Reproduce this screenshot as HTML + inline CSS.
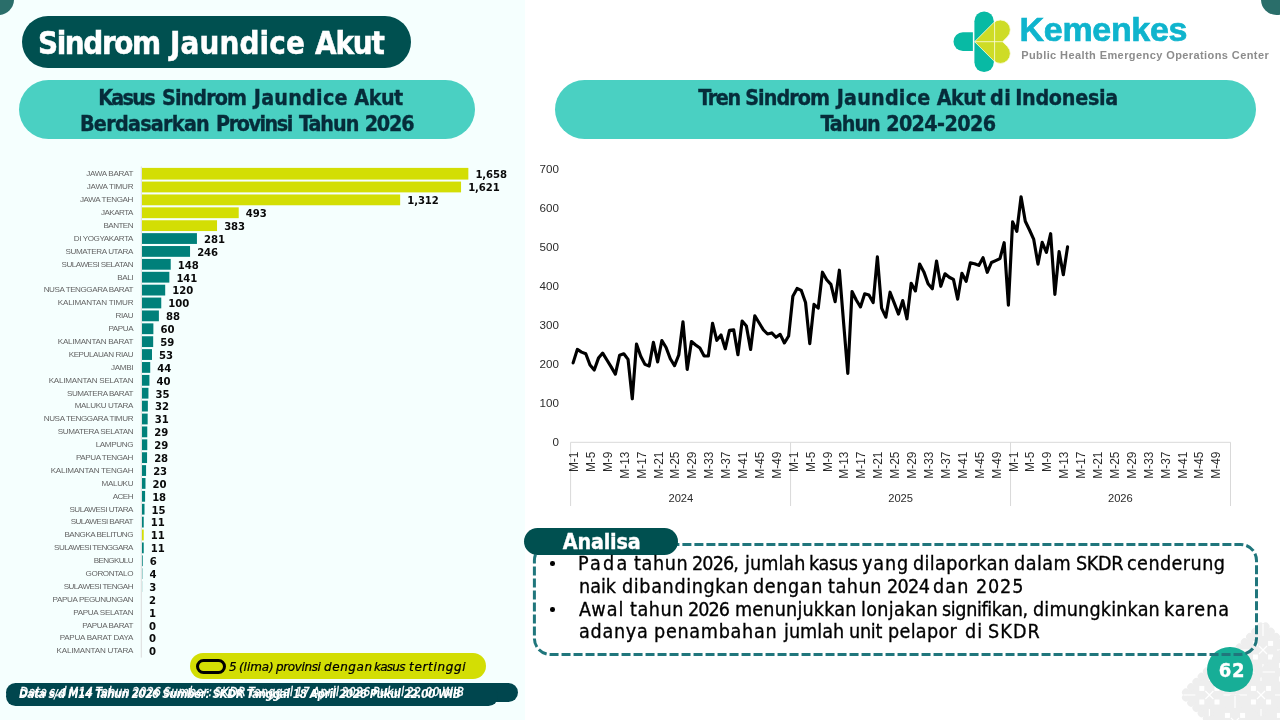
<!DOCTYPE html>
<html lang="id">
<head>
<meta charset="utf-8">
<title>Sindrom Jaundice Akut</title>
<style>
*{box-sizing:border-box;margin:0;padding:0}
html,body{width:1280px;height:720px;overflow:hidden;background:#fff}
body{position:relative;font-family:"Liberation Sans","DejaVu Sans",sans-serif;color:#000}
.abs{position:absolute}
.t{position:absolute;line-height:1;white-space:pre;display:block}
h1,h2,h3,p,li,i{font-weight:normal;font-style:normal;font-size:inherit;margin:0}
#leftbg{left:0;top:0;width:524.5px;height:720px;background:#f5fffe}
.corner{width:31.4px;height:31.4px;border-radius:50%;background:#2a6e6a}
.pill{position:absolute;border-radius:999px}
#title-pill{left:22px;top:16px;width:389px;height:52px;background:#005050}
#sub1-pill{left:19px;top:80px;width:456px;height:58.5px;background:#4ad0c2}
#sub2-pill{left:555px;top:80px;width:701px;height:58.5px;background:#4ad0c2}
#legend{left:189.8px;top:653px;width:295.8px;height:25.8px;background:#d3de04}
#legend-ico{left:196.2px;top:658.9px;width:29.5px;height:15.2px;border:3.1px solid #000;border-radius:7.6px}
.foot{height:18.6px;background:#00464e}
#foot1{left:6px;top:683.1px;width:512px}
#foot2{left:6px;top:687.1px;width:491.5px}
#analisa-pill{left:524px;top:528px;width:154px;height:26.8px;background:#005050}
.bullet{position:absolute;width:4.6px;height:4.6px;border-radius:50%;background:#000}
#kem{-webkit-text-stroke:0.7px #0fb4cd}
#page{left:1207.2px;top:647.3px;width:45.6px;height:45.2px;border-radius:50%;background:#17ae97}
.body{-webkit-text-stroke:0.3px #000}
.thin{-webkit-text-stroke:0.3px #fff}
.legt{-webkit-text-stroke:0.24px #000}
.bold{-webkit-text-stroke:0.35px currentColor}
.bolder{-webkit-text-stroke:0.5px currentColor}
svg{position:absolute;left:0;top:0;overflow:visible}
svg text{font-family:"Liberation Sans","DejaVu Sans",sans-serif}
.cat{font-size:8.1px;fill:#646464}
.val{font-family:"DejaVu Sans","Liberation Sans",sans-serif;font-weight:bold;font-size:10.1px;fill:#0a0a0a;letter-spacing:-0.1px}
.ax{font-size:11.9px;fill:#2b2b2b}
.yr{font-size:11.2px;fill:#2b2b2b}
</style>
</head>
<body>
<div id="leftbg" class="abs"></div>
<div class="abs corner" style="left:-17.7px;top:-16.7px"></div>
<div class="abs corner" style="left:1260.8px;top:-16.7px"></div>

<svg id="deco" width="1280" height="720" viewBox="0 0 1280 720">
<g transform="translate(1209.4 695) rotate(45)">
<rect x="-18.5" y="-18.5" width="37" height="37" fill="#eeeeee"/>
<circle cx="-14.80" cy="-18.50" r="3.85" fill="#eeeeee"/>
<circle cx="-14.80" cy="18.50" r="3.85" fill="#eeeeee"/>
<circle cx="-18.50" cy="-14.80" r="3.85" fill="#eeeeee"/>
<circle cx="18.50" cy="-14.80" r="3.85" fill="#eeeeee"/>
<circle cx="-7.40" cy="-18.50" r="3.85" fill="#eeeeee"/>
<circle cx="-7.40" cy="18.50" r="3.85" fill="#eeeeee"/>
<circle cx="-18.50" cy="-7.40" r="3.85" fill="#eeeeee"/>
<circle cx="18.50" cy="-7.40" r="3.85" fill="#eeeeee"/>
<circle cx="0.00" cy="-18.50" r="3.85" fill="#eeeeee"/>
<circle cx="0.00" cy="18.50" r="3.85" fill="#eeeeee"/>
<circle cx="-18.50" cy="0.00" r="3.85" fill="#eeeeee"/>
<circle cx="18.50" cy="0.00" r="3.85" fill="#eeeeee"/>
<circle cx="7.40" cy="-18.50" r="3.85" fill="#eeeeee"/>
<circle cx="7.40" cy="18.50" r="3.85" fill="#eeeeee"/>
<circle cx="-18.50" cy="7.40" r="3.85" fill="#eeeeee"/>
<circle cx="18.50" cy="7.40" r="3.85" fill="#eeeeee"/>
<circle cx="14.80" cy="-18.50" r="3.85" fill="#eeeeee"/>
<circle cx="14.80" cy="18.50" r="3.85" fill="#eeeeee"/>
<circle cx="-18.50" cy="14.80" r="3.85" fill="#eeeeee"/>
<circle cx="18.50" cy="14.80" r="3.85" fill="#eeeeee"/>
</g>
<rect x="1199.30" y="685.90" width="5" height="5" fill="#fff"/>
<rect x="1214.50" y="685.90" width="5" height="5" fill="#fff"/>
<rect x="1199.30" y="699.50" width="5" height="5" fill="#fff"/>
<rect x="1214.50" y="699.50" width="5" height="5" fill="#fff"/>
<path d="M1205.4 691l8 8M1213.4 691l-8 8M1209.4 669v12M1209.4 709v12M1183.4 695h12M1223.4 695h12" stroke="#fff" stroke-width="1.2" fill="none"/>
<g transform="translate(1261 695) rotate(45)">
<rect x="-18.5" y="-18.5" width="37" height="37" fill="#eeeeee"/>
<circle cx="-14.80" cy="-18.50" r="3.85" fill="#eeeeee"/>
<circle cx="-14.80" cy="18.50" r="3.85" fill="#eeeeee"/>
<circle cx="-18.50" cy="-14.80" r="3.85" fill="#eeeeee"/>
<circle cx="18.50" cy="-14.80" r="3.85" fill="#eeeeee"/>
<circle cx="-7.40" cy="-18.50" r="3.85" fill="#eeeeee"/>
<circle cx="-7.40" cy="18.50" r="3.85" fill="#eeeeee"/>
<circle cx="-18.50" cy="-7.40" r="3.85" fill="#eeeeee"/>
<circle cx="18.50" cy="-7.40" r="3.85" fill="#eeeeee"/>
<circle cx="0.00" cy="-18.50" r="3.85" fill="#eeeeee"/>
<circle cx="0.00" cy="18.50" r="3.85" fill="#eeeeee"/>
<circle cx="-18.50" cy="0.00" r="3.85" fill="#eeeeee"/>
<circle cx="18.50" cy="0.00" r="3.85" fill="#eeeeee"/>
<circle cx="7.40" cy="-18.50" r="3.85" fill="#eeeeee"/>
<circle cx="7.40" cy="18.50" r="3.85" fill="#eeeeee"/>
<circle cx="-18.50" cy="7.40" r="3.85" fill="#eeeeee"/>
<circle cx="18.50" cy="7.40" r="3.85" fill="#eeeeee"/>
<circle cx="14.80" cy="-18.50" r="3.85" fill="#eeeeee"/>
<circle cx="14.80" cy="18.50" r="3.85" fill="#eeeeee"/>
<circle cx="-18.50" cy="14.80" r="3.85" fill="#eeeeee"/>
<circle cx="18.50" cy="14.80" r="3.85" fill="#eeeeee"/>
</g>
<rect x="1250.90" y="685.90" width="5" height="5" fill="#fff"/>
<rect x="1266.10" y="685.90" width="5" height="5" fill="#fff"/>
<rect x="1250.90" y="699.50" width="5" height="5" fill="#fff"/>
<rect x="1266.10" y="699.50" width="5" height="5" fill="#fff"/>
<path d="M1257 691l8 8M1265 691l-8 8M1261 669v12M1261 709v12M1235 695h12M1275 695h12" stroke="#fff" stroke-width="1.2" fill="none"/>
<g transform="translate(1263 650) rotate(45)">
<rect x="-18.5" y="-18.5" width="37" height="37" fill="#eeeeee"/>
<circle cx="-14.80" cy="-18.50" r="3.85" fill="#eeeeee"/>
<circle cx="-14.80" cy="18.50" r="3.85" fill="#eeeeee"/>
<circle cx="-18.50" cy="-14.80" r="3.85" fill="#eeeeee"/>
<circle cx="18.50" cy="-14.80" r="3.85" fill="#eeeeee"/>
<circle cx="-7.40" cy="-18.50" r="3.85" fill="#eeeeee"/>
<circle cx="-7.40" cy="18.50" r="3.85" fill="#eeeeee"/>
<circle cx="-18.50" cy="-7.40" r="3.85" fill="#eeeeee"/>
<circle cx="18.50" cy="-7.40" r="3.85" fill="#eeeeee"/>
<circle cx="0.00" cy="-18.50" r="3.85" fill="#eeeeee"/>
<circle cx="0.00" cy="18.50" r="3.85" fill="#eeeeee"/>
<circle cx="-18.50" cy="0.00" r="3.85" fill="#eeeeee"/>
<circle cx="18.50" cy="0.00" r="3.85" fill="#eeeeee"/>
<circle cx="7.40" cy="-18.50" r="3.85" fill="#eeeeee"/>
<circle cx="7.40" cy="18.50" r="3.85" fill="#eeeeee"/>
<circle cx="-18.50" cy="7.40" r="3.85" fill="#eeeeee"/>
<circle cx="18.50" cy="7.40" r="3.85" fill="#eeeeee"/>
<circle cx="14.80" cy="-18.50" r="3.85" fill="#eeeeee"/>
<circle cx="14.80" cy="18.50" r="3.85" fill="#eeeeee"/>
<circle cx="-18.50" cy="14.80" r="3.85" fill="#eeeeee"/>
<circle cx="18.50" cy="14.80" r="3.85" fill="#eeeeee"/>
</g>
<rect x="1252.90" y="640.90" width="5" height="5" fill="#fff"/>
<rect x="1268.10" y="640.90" width="5" height="5" fill="#fff"/>
<rect x="1252.90" y="654.50" width="5" height="5" fill="#fff"/>
<rect x="1268.10" y="654.50" width="5" height="5" fill="#fff"/>
<path d="M1259 646l8 8M1267 646l-8 8M1263 624v12M1263 664v12M1237 650h12M1277 650h12" stroke="#fff" stroke-width="1.2" fill="none"/>
<g transform="translate(1235 722) rotate(45)">
<rect x="-18.5" y="-18.5" width="37" height="37" fill="#eeeeee"/>
<circle cx="-14.80" cy="-18.50" r="3.85" fill="#eeeeee"/>
<circle cx="-14.80" cy="18.50" r="3.85" fill="#eeeeee"/>
<circle cx="-18.50" cy="-14.80" r="3.85" fill="#eeeeee"/>
<circle cx="18.50" cy="-14.80" r="3.85" fill="#eeeeee"/>
<circle cx="-7.40" cy="-18.50" r="3.85" fill="#eeeeee"/>
<circle cx="-7.40" cy="18.50" r="3.85" fill="#eeeeee"/>
<circle cx="-18.50" cy="-7.40" r="3.85" fill="#eeeeee"/>
<circle cx="18.50" cy="-7.40" r="3.85" fill="#eeeeee"/>
<circle cx="0.00" cy="-18.50" r="3.85" fill="#eeeeee"/>
<circle cx="0.00" cy="18.50" r="3.85" fill="#eeeeee"/>
<circle cx="-18.50" cy="0.00" r="3.85" fill="#eeeeee"/>
<circle cx="18.50" cy="0.00" r="3.85" fill="#eeeeee"/>
<circle cx="7.40" cy="-18.50" r="3.85" fill="#eeeeee"/>
<circle cx="7.40" cy="18.50" r="3.85" fill="#eeeeee"/>
<circle cx="-18.50" cy="7.40" r="3.85" fill="#eeeeee"/>
<circle cx="18.50" cy="7.40" r="3.85" fill="#eeeeee"/>
<circle cx="14.80" cy="-18.50" r="3.85" fill="#eeeeee"/>
<circle cx="14.80" cy="18.50" r="3.85" fill="#eeeeee"/>
<circle cx="-18.50" cy="14.80" r="3.85" fill="#eeeeee"/>
<circle cx="18.50" cy="14.80" r="3.85" fill="#eeeeee"/>
</g>
<rect x="1224.90" y="712.90" width="5" height="5" fill="#fff"/>
<rect x="1240.10" y="712.90" width="5" height="5" fill="#fff"/>
<rect x="1224.90" y="726.50" width="5" height="5" fill="#fff"/>
<rect x="1240.10" y="726.50" width="5" height="5" fill="#fff"/>
<path d="M1231 718l8 8M1239 718l-8 8M1235 696v12M1235 736v12M1209 722h12M1249 722h12" stroke="#fff" stroke-width="1.2" fill="none"/>
<g transform="translate(1289 672) rotate(45)">
<rect x="-18.5" y="-18.5" width="37" height="37" fill="#eeeeee"/>
<circle cx="-14.80" cy="-18.50" r="3.85" fill="#eeeeee"/>
<circle cx="-14.80" cy="18.50" r="3.85" fill="#eeeeee"/>
<circle cx="-18.50" cy="-14.80" r="3.85" fill="#eeeeee"/>
<circle cx="18.50" cy="-14.80" r="3.85" fill="#eeeeee"/>
<circle cx="-7.40" cy="-18.50" r="3.85" fill="#eeeeee"/>
<circle cx="-7.40" cy="18.50" r="3.85" fill="#eeeeee"/>
<circle cx="-18.50" cy="-7.40" r="3.85" fill="#eeeeee"/>
<circle cx="18.50" cy="-7.40" r="3.85" fill="#eeeeee"/>
<circle cx="0.00" cy="-18.50" r="3.85" fill="#eeeeee"/>
<circle cx="0.00" cy="18.50" r="3.85" fill="#eeeeee"/>
<circle cx="-18.50" cy="0.00" r="3.85" fill="#eeeeee"/>
<circle cx="18.50" cy="0.00" r="3.85" fill="#eeeeee"/>
<circle cx="7.40" cy="-18.50" r="3.85" fill="#eeeeee"/>
<circle cx="7.40" cy="18.50" r="3.85" fill="#eeeeee"/>
<circle cx="-18.50" cy="7.40" r="3.85" fill="#eeeeee"/>
<circle cx="18.50" cy="7.40" r="3.85" fill="#eeeeee"/>
<circle cx="14.80" cy="-18.50" r="3.85" fill="#eeeeee"/>
<circle cx="14.80" cy="18.50" r="3.85" fill="#eeeeee"/>
<circle cx="-18.50" cy="14.80" r="3.85" fill="#eeeeee"/>
<circle cx="18.50" cy="14.80" r="3.85" fill="#eeeeee"/>
</g>
<rect x="1278.90" y="662.90" width="5" height="5" fill="#fff"/>
<rect x="1294.10" y="662.90" width="5" height="5" fill="#fff"/>
<rect x="1278.90" y="676.50" width="5" height="5" fill="#fff"/>
<rect x="1294.10" y="676.50" width="5" height="5" fill="#fff"/>
<path d="M1285 668l8 8M1293 668l-8 8M1289 646v12M1289 686v12M1263 672h12M1303 672h12" stroke="#fff" stroke-width="1.2" fill="none"/>
<g transform="translate(1287 722) rotate(45)">
<rect x="-18.5" y="-18.5" width="37" height="37" fill="#eeeeee"/>
<circle cx="-14.80" cy="-18.50" r="3.85" fill="#eeeeee"/>
<circle cx="-14.80" cy="18.50" r="3.85" fill="#eeeeee"/>
<circle cx="-18.50" cy="-14.80" r="3.85" fill="#eeeeee"/>
<circle cx="18.50" cy="-14.80" r="3.85" fill="#eeeeee"/>
<circle cx="-7.40" cy="-18.50" r="3.85" fill="#eeeeee"/>
<circle cx="-7.40" cy="18.50" r="3.85" fill="#eeeeee"/>
<circle cx="-18.50" cy="-7.40" r="3.85" fill="#eeeeee"/>
<circle cx="18.50" cy="-7.40" r="3.85" fill="#eeeeee"/>
<circle cx="0.00" cy="-18.50" r="3.85" fill="#eeeeee"/>
<circle cx="0.00" cy="18.50" r="3.85" fill="#eeeeee"/>
<circle cx="-18.50" cy="0.00" r="3.85" fill="#eeeeee"/>
<circle cx="18.50" cy="0.00" r="3.85" fill="#eeeeee"/>
<circle cx="7.40" cy="-18.50" r="3.85" fill="#eeeeee"/>
<circle cx="7.40" cy="18.50" r="3.85" fill="#eeeeee"/>
<circle cx="-18.50" cy="7.40" r="3.85" fill="#eeeeee"/>
<circle cx="18.50" cy="7.40" r="3.85" fill="#eeeeee"/>
<circle cx="14.80" cy="-18.50" r="3.85" fill="#eeeeee"/>
<circle cx="14.80" cy="18.50" r="3.85" fill="#eeeeee"/>
<circle cx="-18.50" cy="14.80" r="3.85" fill="#eeeeee"/>
<circle cx="18.50" cy="14.80" r="3.85" fill="#eeeeee"/>
</g>
<rect x="1276.90" y="712.90" width="5" height="5" fill="#fff"/>
<rect x="1292.10" y="712.90" width="5" height="5" fill="#fff"/>
<rect x="1276.90" y="726.50" width="5" height="5" fill="#fff"/>
<rect x="1292.10" y="726.50" width="5" height="5" fill="#fff"/>
<path d="M1283 718l8 8M1291 718l-8 8M1287 696v12M1287 736v12M1261 722h12M1301 722h12" stroke="#fff" stroke-width="1.2" fill="none"/>
</svg>

<header>
<div id="title-pill" class="pill"></div>
<h1 class="bolder" style="font-family:'DejaVu Sans Condensed','Liberation Sans',sans-serif;font-size:32px;font-weight:bold;font-style:normal;color:#fff;"><span class="t" style="left:37.94px;top:27.10px;letter-spacing:-1.448px;transform-origin:0 0;transform:scaleX(0.97);">Sindrom</span> <span class="t" style="left:170.45px;top:27.10px;letter-spacing:0.132px;transform-origin:0 0;transform:scaleX(0.97);">Jaundice</span> <span class="t" style="left:314.59px;top:27.10px;letter-spacing:-1.230px;transform-origin:0 0;transform:scaleX(0.97);">Akut</span></h1>
<svg id="logo" width="1280" height="720" viewBox="0 0 1280 720">
  <rect x="974.4" y="11.5" width="19.4" height="60.5" rx="9.7" fill="#08baa4"/>
  <path d="M972.9 32.3H962.9A9.4 9.4 0 0 0 962.9 51.1H972.9Z" fill="#08baa4"/>
  <g fill="#cedc26" stroke="#fbfde6" stroke-width="0.8" stroke-linejoin="round">
    <path d="M974.6 41.7 L993.5 22.8 A9.9 9.9 0 0 1 1007.5 36.8 L1002.6 41.7 L1007.5 46.6 A9.9 9.9 0 0 1 993.5 60.6 Z"/>
    <path d="M994.6 21.6V61.8M974.6 41.7H1002.6" fill="none"/>
  </g>
</svg>
<div id="kem" style="font-family:'Liberation Sans','DejaVu Sans',sans-serif;font-size:34px;font-weight:bold;font-style:normal;color:#0fb4cd;"><span class="t" style="left:1019.60px;top:12.25px;letter-spacing:-0.330px;">Kemenkes</span></div>
<div style="font-family:'Liberation Sans','DejaVu Sans',sans-serif;font-size:11px;font-weight:bold;font-style:normal;color:#8c8c8c;"><span class="t" style="left:1021.16px;top:50.00px;letter-spacing:0.413px;">Public Health Emergency Operations Center</span></div>
</header>

<section id="left">
<div id="sub1-pill" class="pill"></div>
<h2 class="bold"><span style="font-family:'DejaVu Sans Condensed','Liberation Sans',sans-serif;font-size:21.33px;font-weight:bold;font-style:normal;color:#062c3a;"><span class="t" style="left:98.14px;top:86.60px;letter-spacing:-1.668px;">Kasus</span> <span class="t" style="left:162.06px;top:86.60px;letter-spacing:-0.923px;">Sindrom</span> <span class="t" style="left:253.80px;top:86.60px;letter-spacing:0.229px;">Jaundice</span> <span class="t" style="left:354.33px;top:86.60px;letter-spacing:-0.502px;">Akut</span></span><span style="font-family:'DejaVu Sans Condensed','Liberation Sans',sans-serif;font-size:21.33px;font-weight:bold;font-style:normal;color:#062c3a;"><span class="t" style="left:79.94px;top:112.70px;letter-spacing:-0.714px;">Berdasarkan</span> <span class="t" style="left:216.04px;top:112.70px;letter-spacing:-1.442px;">Provinsi</span> <span class="t" style="left:299.09px;top:112.70px;letter-spacing:-1.007px;">Tahun</span> <span class="t" style="left:364.72px;top:112.70px;letter-spacing:-1.201px;">2026</span></span></h2>
<svg id="barchart" width="1280" height="720" viewBox="0 0 1280 720">
<line x1="141.3" y1="166.5" x2="141.3" y2="657.6" stroke="#dcdcdc" stroke-width="1"/>
<rect x="142.0" y="167.89" width="326.34" height="11.70" fill="#d3de04"/>
<text class="cat" x="86.20" y="176.39" textLength="47.3" lengthAdjust="spacing">JAWA BARAT</text>
<text class="val" x="475.44" y="178.39">1,658</text>
<rect x="142.0" y="181.58" width="319.05" height="10.80" fill="#d3de04"/>
<text class="cat" x="86.80" y="189.28" textLength="46.7" lengthAdjust="spacing">JAWA TIMUR</text>
<text class="val" x="468.15" y="191.28">1,621</text>
<rect x="142.0" y="194.47" width="258.15" height="10.80" fill="#d3de04"/>
<text class="cat" x="79.95" y="202.17" textLength="53.5" lengthAdjust="spacing">JAWA TENGAH</text>
<text class="val" x="407.25" y="204.17">1,312</text>
<rect x="142.0" y="207.36" width="96.72" height="10.80" fill="#d3de04"/>
<text class="cat" x="100.95" y="215.06" textLength="32.5" lengthAdjust="spacing">JAKARTA</text>
<text class="val" x="245.82" y="217.06">493</text>
<rect x="142.0" y="220.25" width="75.04" height="10.80" fill="#d3de04"/>
<text class="cat" x="103.45" y="227.95" textLength="30.1" lengthAdjust="spacing">BANTEN</text>
<text class="val" x="224.14" y="229.95">383</text>
<rect x="142.0" y="233.14" width="54.94" height="10.80" fill="#00807a"/>
<text class="cat" x="73.70" y="240.84" textLength="59.8" lengthAdjust="spacing">DI YOGYAKARTA</text>
<text class="val" x="204.04" y="242.84">281</text>
<rect x="142.0" y="246.03" width="48.04" height="10.80" fill="#00807a"/>
<text class="cat" x="65.45" y="253.73" textLength="68.0" lengthAdjust="spacing">SUMATERA UTARA</text>
<text class="val" x="197.14" y="255.73">246</text>
<rect x="142.0" y="258.92" width="28.72" height="10.80" fill="#00807a"/>
<text class="cat" x="61.60" y="266.62" textLength="71.9" lengthAdjust="spacing">SULAWESI SELATAN</text>
<text class="val" x="177.82" y="268.62">148</text>
<rect x="142.0" y="271.81" width="27.34" height="10.80" fill="#00807a"/>
<text class="cat" x="117.20" y="279.51" textLength="16.3" lengthAdjust="spacing">BALI</text>
<text class="val" x="176.44" y="281.51">141</text>
<rect x="142.0" y="284.70" width="23.20" height="10.80" fill="#00807a"/>
<text class="cat" x="43.70" y="292.40" textLength="89.8" lengthAdjust="spacing">NUSA TENGGARA BARAT</text>
<text class="val" x="172.30" y="294.40">120</text>
<rect x="142.0" y="297.58" width="19.26" height="10.80" fill="#00807a"/>
<text class="cat" x="57.80" y="305.28" textLength="75.7" lengthAdjust="spacing">KALIMANTAN TIMUR</text>
<text class="val" x="168.36" y="307.28">100</text>
<rect x="142.0" y="310.47" width="16.89" height="10.80" fill="#00807a"/>
<text class="cat" x="115.45" y="318.17" textLength="18.1" lengthAdjust="spacing">RIAU</text>
<text class="val" x="165.99" y="320.17">88</text>
<rect x="142.0" y="323.36" width="11.38" height="10.80" fill="#00807a"/>
<text class="cat" x="108.45" y="331.06" textLength="25.1" lengthAdjust="spacing">PAPUA</text>
<text class="val" x="160.48" y="333.06">60</text>
<rect x="142.0" y="336.25" width="11.18" height="10.80" fill="#00807a"/>
<text class="cat" x="57.80" y="343.95" textLength="75.7" lengthAdjust="spacing">KALIMANTAN BARAT</text>
<text class="val" x="160.28" y="345.95">59</text>
<rect x="142.0" y="349.14" width="10.00" height="10.80" fill="#00807a"/>
<text class="cat" x="68.70" y="356.84" textLength="64.8" lengthAdjust="spacing">KEPULAUAN RIAU</text>
<text class="val" x="159.10" y="358.84">53</text>
<rect x="142.0" y="362.03" width="8.22" height="10.80" fill="#00807a"/>
<text class="cat" x="111.10" y="369.73" textLength="22.4" lengthAdjust="spacing">JAMBI</text>
<text class="val" x="157.32" y="371.73">44</text>
<rect x="142.0" y="374.92" width="7.43" height="10.80" fill="#00807a"/>
<text class="cat" x="48.70" y="382.62" textLength="84.8" lengthAdjust="spacing">KALIMANTAN SELATAN</text>
<text class="val" x="156.53" y="384.62">40</text>
<rect x="142.0" y="387.81" width="6.45" height="10.80" fill="#00807a"/>
<text class="cat" x="66.95" y="395.51" textLength="66.5" lengthAdjust="spacing">SUMATERA BARAT</text>
<text class="val" x="155.55" y="397.51">35</text>
<rect x="142.0" y="400.70" width="5.86" height="10.80" fill="#00807a"/>
<text class="cat" x="74.70" y="408.40" textLength="58.8" lengthAdjust="spacing">MALUKU UTARA</text>
<text class="val" x="154.96" y="410.40">32</text>
<rect x="142.0" y="413.59" width="5.66" height="10.80" fill="#00807a"/>
<text class="cat" x="43.70" y="421.29" textLength="89.8" lengthAdjust="spacing">NUSA TENGGARA TIMUR</text>
<text class="val" x="154.76" y="423.29">31</text>
<rect x="142.0" y="426.47" width="5.27" height="10.80" fill="#00807a"/>
<text class="cat" x="57.80" y="434.17" textLength="75.7" lengthAdjust="spacing">SUMATERA SELATAN</text>
<text class="val" x="154.37" y="436.17">29</text>
<rect x="142.0" y="439.36" width="5.27" height="10.80" fill="#00807a"/>
<text class="cat" x="95.70" y="447.06" textLength="37.8" lengthAdjust="spacing">LAMPUNG</text>
<text class="val" x="154.37" y="449.06">29</text>
<rect x="142.0" y="452.25" width="5.07" height="10.80" fill="#00807a"/>
<text class="cat" x="75.95" y="459.95" textLength="57.5" lengthAdjust="spacing">PAPUA TENGAH</text>
<text class="val" x="154.17" y="461.95">28</text>
<rect x="142.0" y="465.14" width="4.08" height="10.80" fill="#00807a"/>
<text class="cat" x="50.70" y="472.84" textLength="82.8" lengthAdjust="spacing">KALIMANTAN TENGAH</text>
<text class="val" x="153.18" y="474.84">23</text>
<rect x="142.0" y="478.03" width="3.49" height="10.80" fill="#00807a"/>
<text class="cat" x="101.60" y="485.73" textLength="31.9" lengthAdjust="spacing">MALUKU</text>
<text class="val" x="152.59" y="487.73">20</text>
<rect x="142.0" y="490.92" width="3.10" height="10.80" fill="#00807a"/>
<text class="cat" x="112.80" y="498.62" textLength="20.7" lengthAdjust="spacing">ACEH</text>
<text class="val" x="152.20" y="500.62">18</text>
<rect x="142.0" y="503.81" width="2.51" height="10.80" fill="#00807a"/>
<text class="cat" x="69.45" y="511.51" textLength="64.0" lengthAdjust="spacing">SULAWESI UTARA</text>
<text class="val" x="151.61" y="513.51">15</text>
<rect x="142.0" y="516.70" width="1.72" height="10.80" fill="#00807a"/>
<text class="cat" x="70.70" y="524.40" textLength="62.8" lengthAdjust="spacing">SULAWESI BARAT</text>
<text class="val" x="150.82" y="526.40">11</text>
<rect x="142.0" y="529.59" width="1.72" height="10.80" fill="#d3de04"/>
<text class="cat" x="64.45" y="537.29" textLength="69.0" lengthAdjust="spacing">BANGKA BELITUNG</text>
<text class="val" x="150.82" y="539.29">11</text>
<rect x="142.0" y="542.48" width="1.72" height="10.80" fill="#00807a"/>
<text class="cat" x="54.10" y="550.18" textLength="79.4" lengthAdjust="spacing">SULAWESI TENGGARA</text>
<text class="val" x="150.82" y="552.18">11</text>
<rect x="142.0" y="555.36" width="0.73" height="10.80" fill="#00807a"/>
<text class="cat" x="93.70" y="563.06" textLength="39.8" lengthAdjust="spacing">BENGKULU</text>
<text class="val" x="149.83" y="565.06">6</text>
<rect x="142.0" y="568.25" width="0.34" height="10.80" fill="#00807a"/>
<text class="cat" x="85.60" y="575.95" textLength="47.9" lengthAdjust="spacing">GORONTALO</text>
<text class="val" x="149.44" y="577.95">4</text>
<rect x="142.0" y="581.14" width="0.14" height="10.80" fill="#00807a"/>
<text class="cat" x="63.70" y="588.84" textLength="69.8" lengthAdjust="spacing">SULAWESI TENGAH</text>
<text class="val" x="149.24" y="590.84">3</text>
<text class="cat" x="52.60" y="601.73" textLength="80.9" lengthAdjust="spacing">PAPUA PEGUNUNGAN</text>
<text class="val" x="149.10" y="603.73">2</text>
<text class="cat" x="73.20" y="614.62" textLength="60.3" lengthAdjust="spacing">PAPUA SELATAN</text>
<text class="val" x="149.10" y="616.62">1</text>
<text class="cat" x="82.20" y="627.51" textLength="51.3" lengthAdjust="spacing">PAPUA BARAT</text>
<text class="val" x="149.10" y="629.51">0</text>
<text class="cat" x="59.70" y="640.40" textLength="73.8" lengthAdjust="spacing">PAPUA BARAT DAYA</text>
<text class="val" x="149.10" y="642.40">0</text>
<text class="cat" x="56.60" y="653.29" textLength="76.9" lengthAdjust="spacing">KALIMANTAN UTARA</text>
<text class="val" x="149.10" y="655.29">0</text>
</svg>
<div id="legend" class="pill"></div>
<div id="legend-ico" class="abs"></div>
<i class="legt" style="font-family:'DejaVu Sans Condensed','Liberation Sans',sans-serif;font-size:12.7px;font-weight:normal;font-style:italic;color:#000;"><span class="t" style="left:229.47px;top:660.80px;letter-spacing:0.000px;transform-origin:0 0;transform:scaleX(1.05);">5</span> <span class="t" style="left:239.00px;top:660.80px;letter-spacing:-0.058px;transform-origin:0 0;transform:scaleX(1.05);">(lima)</span> <span class="t" style="left:275.94px;top:660.80px;letter-spacing:-0.343px;transform-origin:0 0;transform:scaleX(1.05);">provinsi</span> <span class="t" style="left:323.81px;top:660.80px;letter-spacing:0.565px;transform-origin:0 0;transform:scaleX(1.05);">dengan</span> <span class="t" style="left:373.77px;top:660.80px;letter-spacing:-0.693px;transform-origin:0 0;transform:scaleX(1.05);">kasus</span> <span class="t" style="left:409.15px;top:660.80px;letter-spacing:0.656px;transform-origin:0 0;transform:scaleX(1.05);">tertinggi</span></i>
<footer>
<div id="foot1" class="pill foot"></div>
<div id="foot2" class="pill foot"></div>
<p class="thin" style="font-family:'DejaVu Sans Condensed','Liberation Sans',sans-serif;font-size:11.7px;font-weight:normal;font-style:italic;color:#fff;"><span class="t" style="left:20.12px;top:686.80px;letter-spacing:0.571px;word-spacing:-1.6px;">Data s.d M14 Tahun 2026 Sumber: SKDR Tanggal 17 April 2026 Pukul 22.00 WIB</span></p>
<p style="font-family:'DejaVu Sans Condensed','Liberation Sans',sans-serif;font-size:11.7px;font-weight:bold;font-style:italic;color:#fff;"><span class="t" style="left:18.97px;top:688.80px;letter-spacing:-0.431px;">Data s/d M14 Tahun 2026 Sumber: SKDR Tanggal 18 April 2026 Pukul 22.00 WIB</span></p>
</footer>
</section>

<section id="right">
<div id="sub2-pill" class="pill"></div>
<h2 class="bold"><span style="font-family:'DejaVu Sans Condensed','Liberation Sans',sans-serif;font-size:21.33px;font-weight:bold;font-style:normal;color:#062c3a;"><span class="t" style="left:698.14px;top:86.60px;letter-spacing:-1.247px;">Tren</span> <span class="t" style="left:745.26px;top:86.60px;letter-spacing:-0.946px;">Sindrom</span> <span class="t" style="left:836.75px;top:86.60px;letter-spacing:0.194px;">Jaundice</span> <span class="t" style="left:936.73px;top:86.60px;letter-spacing:-0.535px;">Akut</span> <span class="t" style="left:990.10px;top:86.60px;letter-spacing:0.298px;">di</span> <span class="t" style="left:1015.13px;top:86.60px;letter-spacing:-0.269px;">Indonesia</span></span><span style="font-family:'DejaVu Sans Condensed','Liberation Sans',sans-serif;font-size:21.33px;font-weight:bold;font-style:normal;color:#062c3a;"><span class="t" style="left:820.49px;top:112.80px;letter-spacing:-1.007px;">Tahun</span> <span class="t" style="left:886.17px;top:112.80px;letter-spacing:-0.617px;">2024-2026</span></span></h2>
<svg id="linechart" width="1280" height="720" viewBox="0 0 1280 720">
<text class="ax" x="558.9" y="446.35" text-anchor="end" style="font-size:11.6px">0</text>
<text class="ax" x="558.9" y="407.31" text-anchor="end" style="font-size:11.6px">100</text>
<text class="ax" x="558.9" y="368.27" text-anchor="end" style="font-size:11.6px">200</text>
<text class="ax" x="558.9" y="329.23" text-anchor="end" style="font-size:11.6px">300</text>
<text class="ax" x="558.9" y="290.19" text-anchor="end" style="font-size:11.6px">400</text>
<text class="ax" x="558.9" y="251.15" text-anchor="end" style="font-size:11.6px">500</text>
<text class="ax" x="558.9" y="212.11" text-anchor="end" style="font-size:11.6px">600</text>
<text class="ax" x="558.9" y="173.07" text-anchor="end" style="font-size:11.6px">700</text>
<path d="M570.6 442.3H1230.6" stroke="#d9d9d9" stroke-width="1" fill="none"/>
<path d="M570.60 442.3V506" stroke="#d9d9d9" stroke-width="1" fill="none"/>
<path d="M790.57 442.3V506" stroke="#d9d9d9" stroke-width="1" fill="none"/>
<path d="M1010.54 442.3V506" stroke="#d9d9d9" stroke-width="1" fill="none"/>
<path d="M1230.51 442.3V506" stroke="#d9d9d9" stroke-width="1" fill="none"/>
<text class="ax" transform="translate(578.01 451.6) rotate(-90)" text-anchor="end">M-1</text>
<text class="ax" transform="translate(594.92 451.6) rotate(-90)" text-anchor="end">M-5</text>
<text class="ax" transform="translate(611.82 451.6) rotate(-90)" text-anchor="end">M-9</text>
<text class="ax" transform="translate(628.72 451.6) rotate(-90)" text-anchor="end">M-13</text>
<text class="ax" transform="translate(645.63 451.6) rotate(-90)" text-anchor="end">M-17</text>
<text class="ax" transform="translate(662.53 451.6) rotate(-90)" text-anchor="end">M-21</text>
<text class="ax" transform="translate(679.44 451.6) rotate(-90)" text-anchor="end">M-25</text>
<text class="ax" transform="translate(696.34 451.6) rotate(-90)" text-anchor="end">M-29</text>
<text class="ax" transform="translate(713.24 451.6) rotate(-90)" text-anchor="end">M-33</text>
<text class="ax" transform="translate(730.15 451.6) rotate(-90)" text-anchor="end">M-37</text>
<text class="ax" transform="translate(747.05 451.6) rotate(-90)" text-anchor="end">M-41</text>
<text class="ax" transform="translate(763.96 451.6) rotate(-90)" text-anchor="end">M-45</text>
<text class="ax" transform="translate(780.86 451.6) rotate(-90)" text-anchor="end">M-49</text>
<text class="yr" x="680.88" y="502.4" text-anchor="middle">2024</text>
<text class="ax" transform="translate(797.76 451.6) rotate(-90)" text-anchor="end">M-1</text>
<text class="ax" transform="translate(814.67 451.6) rotate(-90)" text-anchor="end">M-5</text>
<text class="ax" transform="translate(831.57 451.6) rotate(-90)" text-anchor="end">M-9</text>
<text class="ax" transform="translate(848.47 451.6) rotate(-90)" text-anchor="end">M-13</text>
<text class="ax" transform="translate(865.38 451.6) rotate(-90)" text-anchor="end">M-17</text>
<text class="ax" transform="translate(882.28 451.6) rotate(-90)" text-anchor="end">M-21</text>
<text class="ax" transform="translate(899.19 451.6) rotate(-90)" text-anchor="end">M-25</text>
<text class="ax" transform="translate(916.09 451.6) rotate(-90)" text-anchor="end">M-29</text>
<text class="ax" transform="translate(932.99 451.6) rotate(-90)" text-anchor="end">M-33</text>
<text class="ax" transform="translate(949.90 451.6) rotate(-90)" text-anchor="end">M-37</text>
<text class="ax" transform="translate(966.80 451.6) rotate(-90)" text-anchor="end">M-41</text>
<text class="ax" transform="translate(983.71 451.6) rotate(-90)" text-anchor="end">M-45</text>
<text class="ax" transform="translate(1000.61 451.6) rotate(-90)" text-anchor="end">M-49</text>
<text class="yr" x="900.62" y="502.4" text-anchor="middle">2025</text>
<text class="ax" transform="translate(1017.51 451.6) rotate(-90)" text-anchor="end">M-1</text>
<text class="ax" transform="translate(1034.42 451.6) rotate(-90)" text-anchor="end">M-5</text>
<text class="ax" transform="translate(1051.32 451.6) rotate(-90)" text-anchor="end">M-9</text>
<text class="ax" transform="translate(1068.22 451.6) rotate(-90)" text-anchor="end">M-13</text>
<text class="ax" transform="translate(1085.13 451.6) rotate(-90)" text-anchor="end">M-17</text>
<text class="ax" transform="translate(1102.03 451.6) rotate(-90)" text-anchor="end">M-21</text>
<text class="ax" transform="translate(1118.94 451.6) rotate(-90)" text-anchor="end">M-25</text>
<text class="ax" transform="translate(1135.84 451.6) rotate(-90)" text-anchor="end">M-29</text>
<text class="ax" transform="translate(1152.74 451.6) rotate(-90)" text-anchor="end">M-33</text>
<text class="ax" transform="translate(1169.65 451.6) rotate(-90)" text-anchor="end">M-37</text>
<text class="ax" transform="translate(1186.55 451.6) rotate(-90)" text-anchor="end">M-41</text>
<text class="ax" transform="translate(1203.46 451.6) rotate(-90)" text-anchor="end">M-45</text>
<text class="ax" transform="translate(1220.36 451.6) rotate(-90)" text-anchor="end">M-49</text>
<text class="yr" x="1120.38" y="502.4" text-anchor="middle">2026</text>
<polyline points="573.11,362.90 577.34,349.40 581.56,352.10 585.79,353.75 590.02,365.00 594.24,370.00 598.47,358.10 602.69,353.10 606.92,360.00 611.15,366.90 615.37,374.20 619.60,355.25 623.82,353.75 628.05,359.40 632.28,398.80 636.50,344.05 640.73,356.25 644.95,364.40 649.18,366.00 653.41,342.40 657.63,361.95 661.86,340.55 666.08,347.50 670.31,358.75 674.54,365.70 678.76,355.00 682.99,321.80 687.21,369.45 691.44,341.50 695.67,345.00 699.89,348.10 704.12,356.00 708.34,356.00 712.57,323.30 716.80,340.40 721.02,335.00 725.25,348.80 729.47,330.40 733.70,329.75 737.93,354.70 742.15,321.00 746.38,326.00 750.60,349.45 754.83,315.80 759.06,322.75 763.28,329.75 767.51,334.00 771.73,332.90 775.96,337.25 780.19,334.40 784.41,342.95 788.64,336.00 792.86,296.25 797.09,288.50 801.31,290.40 805.54,302.50 809.77,343.70 813.99,304.40 818.22,308.10 822.44,272.20 826.67,279.75 830.90,284.40 835.12,301.70 839.35,270.20 843.57,322.40 847.80,373.45 852.03,291.55 856.25,300.00 860.48,306.95 864.70,293.75 868.93,295.00 873.16,302.60 877.38,256.80 881.61,308.10 885.83,317.20 890.06,292.20 894.29,303.10 898.51,314.10 902.74,300.55 906.96,318.80 911.19,283.30 915.42,290.95 919.64,264.05 923.87,271.90 928.09,283.75 932.32,288.75 936.55,261.00 940.77,286.30 945.00,273.75 949.22,277.25 953.45,279.40 957.68,299.10 961.90,273.30 966.13,281.30 970.35,262.90 974.58,263.70 978.81,265.40 983.03,257.70 987.26,272.30 991.48,262.50 995.71,260.60 999.94,258.60 1004.16,242.70 1008.39,305.10 1012.61,221.80 1016.84,231.30 1021.06,196.80 1025.29,221.25 1029.52,230.00 1033.74,239.40 1037.97,264.10 1042.19,242.40 1046.42,252.30 1050.65,233.70 1054.87,294.45 1059.10,251.55 1063.32,274.70 1067.55,246.90" fill="none" stroke="#000" stroke-width="3.15" stroke-linejoin="round" stroke-linecap="round"/>
</svg>
<div id="page" class="abs"></div>
<div class="bold" style="font-family:'DejaVu Sans Condensed','Liberation Sans',sans-serif;font-size:20px;font-weight:bold;font-style:normal;color:#fff;"><span class="t" style="left:1218.73px;top:660.30px;letter-spacing:0.822px;">62</span></div>
<svg id="box" width="1280" height="720" viewBox="0 0 1280 720">
  <rect x="534.4" y="544.4" width="722.1" height="110" rx="16" fill="none" stroke="#20767c" stroke-width="3" stroke-dasharray="9 3"/>
</svg>
<div id="analisa-pill" class="pill"></div>
<h3 class="bold" style="font-family:'DejaVu Sans Condensed','Liberation Sans',sans-serif;font-size:21.33px;font-weight:bold;font-style:normal;color:#fff;"><span class="t" style="left:562.83px;top:530.70px;letter-spacing:-0.193px;">Analisa</span></h3>
<ul style="list-style:none">
  <li><i class="bullet" style="left:550.2px;top:561.3px"></i><span class="body body" style="font-family:'DejaVu Sans Condensed','Liberation Sans',sans-serif;font-size:18.67px;font-weight:normal;font-style:normal;color:#000;"><span class="t" style="left:578.46px;top:554.70px;letter-spacing:2.161px;transform-origin:0 0;transform:scaleX(1.05);">Pada</span> <span class="t" style="left:633.82px;top:554.70px;letter-spacing:0.577px;transform-origin:0 0;transform:scaleX(1.05);">tahun</span> <span class="t" style="left:692.29px;top:554.70px;letter-spacing:-0.837px;transform-origin:0 0;transform:scaleX(1.05);">2026,</span> <span class="t" style="left:744.81px;top:554.70px;letter-spacing:0.054px;transform-origin:0 0;transform:scaleX(1.05);">jumlah</span> <span class="t" style="left:809.00px;top:554.70px;letter-spacing:-0.301px;transform-origin:0 0;transform:scaleX(1.05);">kasus</span> <span class="t" style="left:862.29px;top:554.70px;letter-spacing:0.799px;transform-origin:0 0;transform:scaleX(1.05);">yang</span> <span class="t" style="left:912.90px;top:554.70px;letter-spacing:0.347px;transform-origin:0 0;transform:scaleX(1.05);">dilaporkan</span> <span class="t" style="left:1014.30px;top:554.70px;letter-spacing:0.447px;transform-origin:0 0;transform:scaleX(1.05);">dalam</span> <span class="t" style="left:1075.86px;top:554.70px;letter-spacing:-0.317px;transform-origin:0 0;transform:scaleX(1.05);">SKDR</span> <span class="t" style="left:1127.10px;top:554.70px;letter-spacing:0.404px;transform-origin:0 0;transform:scaleX(1.05);">cenderung</span></span><span class="body body" style="font-family:'DejaVu Sans Condensed','Liberation Sans',sans-serif;font-size:18.67px;font-weight:normal;font-style:normal;color:#000;"><span class="t" style="left:578.60px;top:577.60px;letter-spacing:0.000px;transform-origin:0 0;transform:scaleX(1.05);">naik</span> <span class="t" style="left:622.10px;top:577.60px;letter-spacing:0.597px;transform-origin:0 0;transform:scaleX(1.05);">dibandingkan</span> <span class="t" style="left:752.90px;top:577.60px;letter-spacing:0.589px;transform-origin:0 0;transform:scaleX(1.05);">dengan</span> <span class="t" style="left:828.22px;top:577.60px;letter-spacing:0.553px;transform-origin:0 0;transform:scaleX(1.05);">tahun</span> <span class="t" style="left:886.69px;top:577.60px;letter-spacing:-0.619px;transform-origin:0 0;transform:scaleX(1.05);">2024</span> <span class="t" style="left:933.30px;top:577.60px;letter-spacing:1.067px;transform-origin:0 0;transform:scaleX(1.05);">dan</span> <span class="t" style="left:975.89px;top:577.60px;letter-spacing:0.808px;transform-origin:0 0;transform:scaleX(1.05);">2025</span></span></li>
  <li><i class="bullet" style="left:550.2px;top:607.1px"></i><span class="body body" style="font-family:'DejaVu Sans Condensed','Liberation Sans',sans-serif;font-size:18.67px;font-weight:normal;font-style:normal;color:#000;"><span class="t" style="left:579.48px;top:600.70px;letter-spacing:0.983px;transform-origin:0 0;transform:scaleX(1.05);">Awal</span> <span class="t" style="left:630.42px;top:600.70px;letter-spacing:0.553px;transform-origin:0 0;transform:scaleX(1.05);">tahun</span> <span class="t" style="left:687.99px;top:600.70px;letter-spacing:-0.942px;transform-origin:0 0;transform:scaleX(1.05);">2026</span> <span class="t" style="left:734.60px;top:600.70px;letter-spacing:0.164px;transform-origin:0 0;transform:scaleX(1.05);">menunjukkan</span> <span class="t" style="left:860.54px;top:600.70px;letter-spacing:0.320px;transform-origin:0 0;transform:scaleX(1.05);">lonjakan</span> <span class="t" style="left:942.10px;top:600.70px;letter-spacing:-0.356px;transform-origin:0 0;transform:scaleX(1.05);">signifikan,</span> <span class="t" style="left:1032.90px;top:600.70px;letter-spacing:0.163px;transform-origin:0 0;transform:scaleX(1.05);">dimungkinkan</span> <span class="t" style="left:1163.50px;top:600.70px;letter-spacing:0.918px;transform-origin:0 0;transform:scaleX(1.05);">karena</span></span><span class="body body" style="font-family:'DejaVu Sans Condensed','Liberation Sans',sans-serif;font-size:18.67px;font-weight:normal;font-style:normal;color:#000;"><span class="t" style="left:579.08px;top:622.60px;letter-spacing:0.675px;transform-origin:0 0;transform:scaleX(1.05);">adanya</span> <span class="t" style="left:654.20px;top:622.60px;letter-spacing:0.674px;transform-origin:0 0;transform:scaleX(1.05);">penambahan</span> <span class="t" style="left:783.71px;top:622.60px;letter-spacing:0.000px;transform-origin:0 0;transform:scaleX(1.05);">jumlah</span> <span class="t" style="left:848.98px;top:622.60px;letter-spacing:-0.225px;transform-origin:0 0;transform:scaleX(1.05);">unit</span> <span class="t" style="left:888.10px;top:622.60px;letter-spacing:0.289px;transform-origin:0 0;transform:scaleX(1.05);">pelapor</span> <span class="t" style="left:965.30px;top:622.60px;letter-spacing:1.061px;transform-origin:0 0;transform:scaleX(1.05);">di</span> <span class="t" style="left:987.96px;top:622.60px;letter-spacing:1.048px;transform-origin:0 0;transform:scaleX(1.05);">SKDR</span></span></li>
</ul>
</section>
</body>
</html>
